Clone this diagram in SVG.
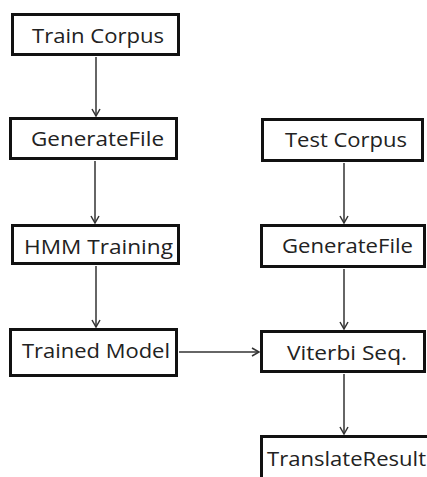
<svg xmlns="http://www.w3.org/2000/svg" width="427" height="477" viewBox="0 0 427 477">
<style>
.box{fill:#fff;stroke:#111;stroke-width:3}
.lbl{font-family:"Open Sans","DejaVu Sans",sans-serif;font-size:20px;fill:#222}
.con{stroke:#333;stroke-width:1.5;fill:none}
</style>
<defs>
<marker id="ah" markerWidth="10" markerHeight="10" refX="8" refY="5" orient="auto" markerUnits="userSpaceOnUse">
<path d="M1,1 L8,5 L1,9" fill="none" stroke="#333" stroke-width="1.5"/>
</marker>
</defs>
<rect width="427" height="477" fill="#fff"/>
<g id="connectors">
<line class="con" x1="96" y1="57" x2="96" y2="116" marker-end="url(#ah)"/>
<line class="con" x1="95" y1="161" x2="95" y2="223" marker-end="url(#ah)"/>
<line class="con" x1="96" y1="266" x2="96" y2="327" marker-end="url(#ah)"/>
<line class="con" x1="179" y1="352" x2="259" y2="352" marker-end="url(#ah)"/>
<line class="con" x1="344" y1="163" x2="344" y2="223" marker-end="url(#ah)"/>
<line class="con" x1="344" y1="269" x2="344" y2="329" marker-end="url(#ah)"/>
<line class="con" x1="344" y1="374" x2="344" y2="434" marker-end="url(#ah)"/>
</g>
<g id="train-corpus">
<rect class="box" x="12.5" y="14.5" width="166" height="40"/>
<text class="lbl" x="32" y="43" textLength="132" lengthAdjust="spacingAndGlyphs">Train Corpus</text>
</g>
<g id="generatefile-left">
<rect class="box" x="10.5" y="118.5" width="166" height="40"/>
<text class="lbl" x="31" y="146" textLength="133" lengthAdjust="spacingAndGlyphs">GenerateFile</text>
</g>
<g id="hmm-training">
<rect class="box" x="12.5" y="225.5" width="166" height="38"/>
<text class="lbl" x="24" y="254" textLength="149" lengthAdjust="spacingAndGlyphs">HMM Training</text>
</g>
<g id="trained-model">
<rect class="box" x="10.5" y="329.5" width="166" height="46"/>
<text class="lbl" x="22" y="358" textLength="148" lengthAdjust="spacingAndGlyphs">Trained Model</text>
</g>
<g id="test-corpus">
<rect class="box" x="262.5" y="119.5" width="160" height="41"/>
<text class="lbl" x="285" y="147" textLength="122" lengthAdjust="spacingAndGlyphs">Test Corpus</text>
</g>
<g id="generatefile-right">
<rect class="box" x="261.5" y="225.5" width="163" height="41"/>
<text class="lbl" x="282" y="253" textLength="131" lengthAdjust="spacingAndGlyphs">GenerateFile</text>
</g>
<g id="viterbi-seq">
<rect class="box" x="261.5" y="331.5" width="163" height="40"/>
<text class="lbl" x="287" y="360" textLength="120" lengthAdjust="spacingAndGlyphs">Viterbi Seq.</text>
</g>
<g id="translate-result">
<rect class="box" x="261.5" y="436.5" width="170" height="45"/>
<text class="lbl" x="267" y="466" textLength="159" lengthAdjust="spacingAndGlyphs">TranslateResult</text>
</g>
</svg>
